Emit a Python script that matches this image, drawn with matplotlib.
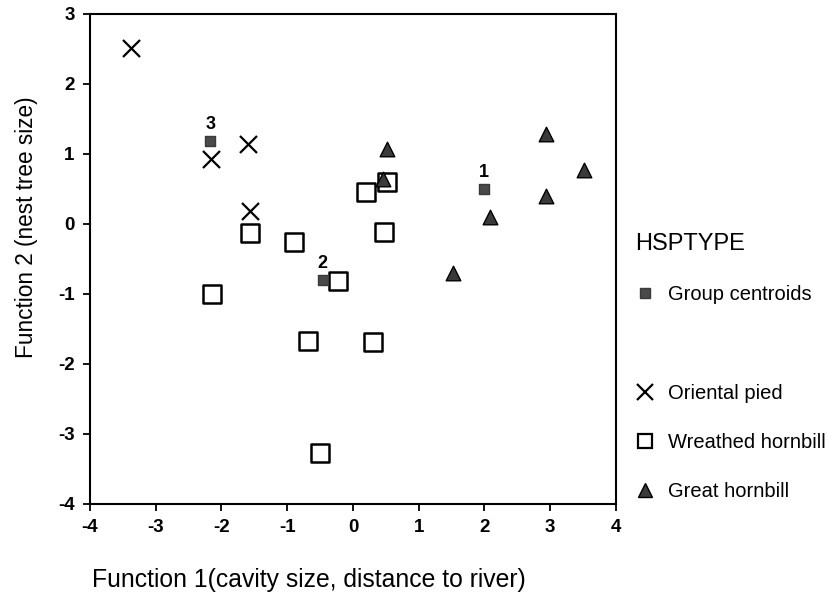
import matplotlib
matplotlib.use('Agg')
import matplotlib.pyplot as plt
from matplotlib.lines import Line2D

plt.rcParams['font.family'] = ['Liberation Sans', 'DejaVu Sans']
plt.rcParams['axes.unicode_minus'] = False

# discriminant scores
oriental_x = [-3.37, -2.16, -1.59, -1.56]
oriental_y = [2.52, 0.93, 1.14, 0.18]

wreathed_x = [-1.56, -0.90, -0.23, -2.14, -0.68, 0.20, 0.51, 0.47, 0.31, -0.50]
wreathed_y = [-0.13, -0.26, -0.81, -1.00, -1.67, 0.46, 0.60, -0.12, -1.69, -3.27]

great_x = [0.46, 0.51, 2.94, 3.51, 2.93, 2.08, 1.52]
great_y = [0.64, 1.07, 1.28, 0.77, 0.40, 0.10, -0.70]

centroid_x = [1.99, -0.46, -2.17]
centroid_y = [0.50, -0.80, 1.18]
centroid_labels = ['1', '2', '3']

xticks = [-4, -3, -2, -1, 0, 1, 2, 3, 4]
yticks = [-4, -3, -2, -1, 0, 1, 2, 3]

fig = plt.figure(figsize=(8.29, 6.06), dpi=100)
ax = fig.add_axes([90/829, 1 - 504/606, 526/829, 490/606])

dark = '#3a3a3a'
ax.scatter(oriental_x, oriental_y, marker='x', s=150, c='black', linewidths=1.6, zorder=3)
ax.scatter(wreathed_x, wreathed_y, marker='s', s=150, facecolors='white',
           edgecolors='black', linewidths=1.8, zorder=3)
ax.scatter(great_x, great_y, marker='^', s=110, c=dark, edgecolors='black',
           linewidths=1.0, zorder=4)
ax.scatter(centroid_x, centroid_y, marker='s', s=50, c='#4a4a4a', edgecolors=dark,
           linewidths=1.0, zorder=5)
for cx, cy, lab in zip(centroid_x, centroid_y, centroid_labels):
    ax.annotate(lab, (cx, cy), xytext=(0, 6), textcoords='offset points',
                ha='center', va='bottom', fontsize=13, fontweight='bold')

ax.set_xlim(-4, 4)
ax.set_ylim(-4, 3)
ax.set_xticks(xticks)
ax.set_yticks(yticks)
ax.tick_params(direction='out', length=5, width=1.3, labelsize=13.5, pad=6)
for lbl in ax.get_xticklabels() + ax.get_yticklabels():
    lbl.set_fontweight('bold')
for sp in ax.spines.values():
    sp.set_linewidth(1.5)

ax.set_xlabel('Function 1(cavity size, distance to river)', fontsize=17.8)
ax.set_ylabel('Function 2 (nest tree size)', fontsize=16.3)
ax.xaxis.set_label_coords(0.416, -0.13)
ax.yaxis.set_label_coords(-0.098, 0.565)

handles = [
    Line2D([], [], linestyle='none', marker='s', markersize=7, color='#4a4a4a', markeredgecolor=dark),
    Line2D([], [], linestyle='none'),
    Line2D([], [], linestyle='none', marker='x', markersize=11, color='black', markeredgewidth=1.6),
    Line2D([], [], linestyle='none', marker='s', markersize=10, markerfacecolor='white',
           markeredgecolor='black', markeredgewidth=1.6),
    Line2D([], [], linestyle='none', marker='^', markersize=10, color=dark, markeredgecolor='black'),
]
labels = ['Group centroids', '', 'Oriental pied', 'Wreathed hornbill', 'Great hornbill']
leg = fig.legend(handles, labels, title='HSPTYPE', loc='upper left',
                 bbox_to_anchor=(635/829, 1 - 233/606), frameon=False,
                 fontsize=14.5, title_fontsize=17, alignment='left',
                 handlelength=1.0, handletextpad=0.65, labelspacing=1.5,
                 borderpad=0, borderaxespad=0)

fig.savefig('out.png', dpi=100)
